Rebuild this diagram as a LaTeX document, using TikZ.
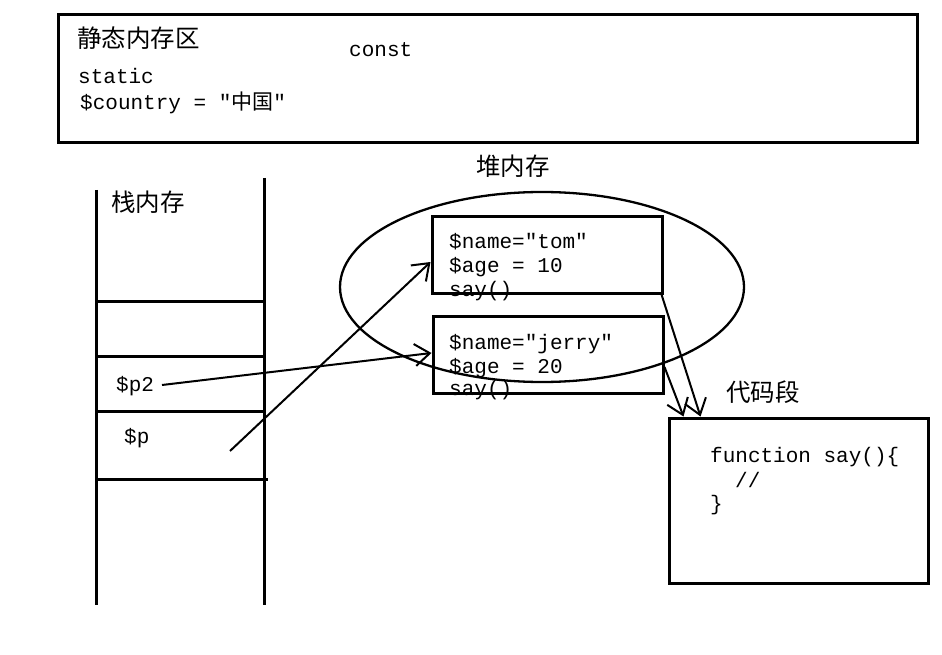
\documentclass[tikz,border=0pt]{standalone}
\usepackage{fontspec}
\setmonofont{Liberation Mono}
\newfontfamily\cjk{Noto Sans CJK SC}[BoldFont=* Bold]
\usetikzlibrary{arrows.meta,shapes.geometric}
\begin{document}
\begin{tikzpicture}[x=1pt,y=-1pt,
  thick line/.style={line width=3pt},
  code/.style={font=\ttfamily\fontsize{21}{24}\selectfont, anchor=base west, inner sep=0pt},
  cjklabel/.style={font=\cjk\fontsize{24.5}{27}\selectfont, inner sep=0pt},
  ptr/.style={line width=2pt, -{Straight Barb[length=15pt,width=22pt,line width=2pt]}},
  objbox/.style={draw, line width=3pt}]
\useasboundingbox (0,0) rectangle (942,655);
% static memory area
\draw[thick line] (58,15) rectangle (917,143);
\node[cjklabel, anchor=west] (statlbl) at (77,38) {静态内存区};
\node[code] (const) at (349,57) {const};
\node[code] (static) at (78,84) {static};
\node[code] (country) at (80,110) {\$country = ″{\cjk 中国}″};
% stack
\draw[thick line] (96,190) -- (96,605);
\draw[thick line] (264,178) -- (264,605);
\draw[thick line] (96,301) -- (264,301);
\draw[thick line] (96,356) -- (266,356);
\draw[thick line] (96,411) -- (266,411);
\draw[thick line] (96,479) -- (268,479);
\node[cjklabel] (stacklbl) at (148,202) {栈内存};
\node[code] (p2) at (116,391) {\$p2};
\node[code] (p) at (124,443) {\$p};
\coordinate (p2s) at (162,385);
\coordinate (ps) at (230,451);
% heap
\node[cjklabel] (heaplbl) at (513,166) {堆内存};
\node[draw, ellipse, line width=2.3pt, minimum width=404pt, minimum height=190pt, inner sep=0pt] (heap) at (542,287) {};
\node[objbox, minimum width=230pt, minimum height=76pt, inner sep=0pt] (tom) at (547,255) {};
\node[code] (t1) at (449,248) {\$name=″tom″};
\node[code] (t2) at (449,272) {\$age = 10};
\node[code] (t3) at (449,296) {say()};
\node[objbox, minimum width=230pt, minimum height=77pt, inner sep=0pt] (jerry) at (548,354.5) {};
\node[code] (j1) at (449,349) {\$name=″jerry″};
\node[code] (j2) at (449,373) {\$age = 20};
\node[code] (j3) at (449,395) {say()};
% code segment
\node[cjklabel] (codelbl) at (763,392) {代码段};
\node[objbox, minimum width=259pt, minimum height=165pt, inner sep=0pt] (codebox) at (798.5,500.5) {};
\node[code] (c1) at (710,462) {function say()\{};
\node[code] (c2) at (735,487) {//};
\node[code] (c3) at (710,510) {\}};
% pointers
\draw[ptr] (ps) -- ([yshift=-7pt]tom.west);
\draw[ptr] (p2s) -- ([yshift=1.5pt]jerry.west);
\draw[ptr] ([xshift=-2pt]tom.south east) -- ([xshift=33pt]codebox.north west);
\draw[ptr] ([yshift=-12.5pt]jerry.east) -- ([xshift=16pt]codebox.north west);
\end{tikzpicture}
\end{document}
